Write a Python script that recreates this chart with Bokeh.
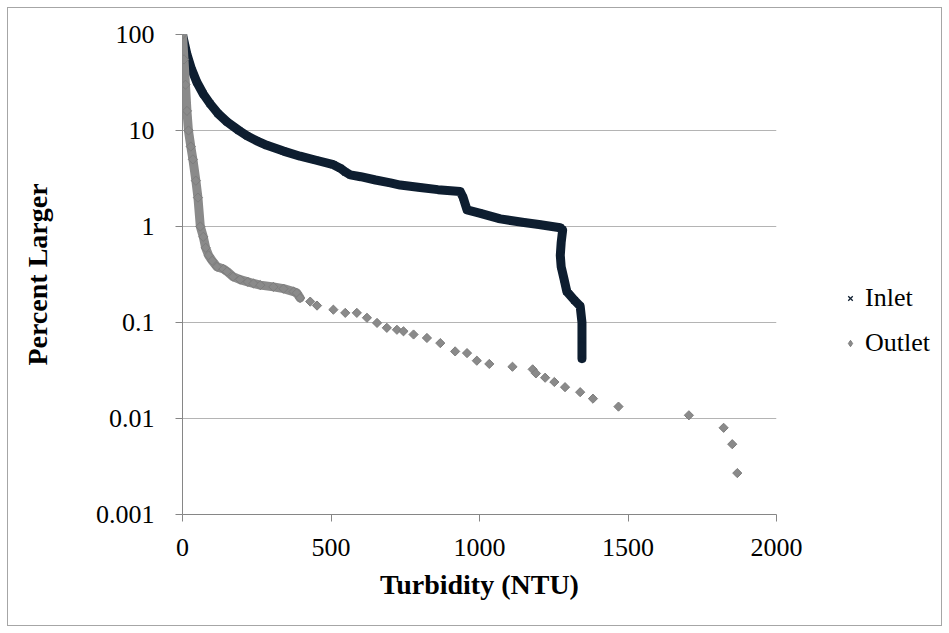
from bokeh.plotting import figure
from bokeh.layouts import row
from bokeh.models import (Range1d, FixedTicker, CustomJSTickFormatter, Legend, LegendItem,
                          ColumnDataSource)
from bokeh.embed import file_html
from bokeh.resources import INLINE

# ---- data ----
inlet_x = [0, 5, 15, 30, 48, 70, 93, 120, 150, 190,
           217, 250, 284, 340, 396, 450, 508, 531, 548, 565,
           600, 650, 700, 733, 800, 860, 935, 945, 958, 1000,
           1070, 1150, 1200, 1272, 1280, 1275, 1272, 1275, 1285, 1294,
           1320, 1339, 1345, 1345, 1345]
inlet_y = [100, 85, 62, 44, 32, 24, 19, 15, 12.3, 10,
           8.8, 7.8, 7.0, 6.1, 5.4, 4.9, 4.4, 4.05, 3.7, 3.45,
           3.3, 3.05, 2.85, 2.7, 2.55, 2.42, 2.31, 2.0, 1.49, 1.38,
           1.2, 1.1, 1.05, 0.97, 0.92, 0.68, 0.5, 0.38, 0.28, 0.21,
           0.17, 0.148, 0.1, 0.065, 0.042]

outlet_x = [0, 5, 10, 15, 20, 28, 35, 45, 52, 60,
            70, 78, 88, 100, 116, 138, 150, 170, 194, 220,
            239, 262, 306, 340, 374, 385, 396, 430, 453, 508,
            548, 587, 621, 655, 688, 722, 744, 778, 823, 868,
            918, 958, 991, 1033, 1111, 1179, 1190, 1221, 1252, 1288,
            1339, 1382, 1468, 1705, 1822, 1851, 1868]
outlet_y = [100, 55, 30, 16, 10, 6.8, 5, 3, 2, 1,
            0.78, 0.6, 0.5, 0.44, 0.38, 0.36, 0.34, 0.3, 0.28, 0.265,
            0.255, 0.245, 0.235, 0.225, 0.21, 0.203, 0.18, 0.165, 0.15, 0.136,
            0.126, 0.126, 0.112, 0.099, 0.088, 0.084, 0.081, 0.075, 0.069, 0.061,
            0.050, 0.048, 0.040, 0.037, 0.0346, 0.0325, 0.0295, 0.0266, 0.0240, 0.0212,
            0.0188, 0.0161, 0.0133, 0.0108, 0.0080, 0.0054, 0.0027]

x_ticks = [0, 500, 1000, 1500, 2000]
y_ticks = [0.001, 0.01, 0.1, 1, 10, 100]
series_names = ["Inlet", "Outlet"]
x_title = "Turbidity (NTU)"
y_title = "Percent Larger"

OUTLET_DENSE = 27  # points of the outlet series forming the continuous band

FONT = "Liberation Serif"
INLET_COLOR = "#0e1e30"
OUTLET_COLOR = "#8a8a8a"
OUTLET_EDGE = "#7d7d7d"

MAIN_W, LEG_W, H = 810, 139, 633

p = figure(width=MAIN_W, height=H, output_backend="svg", toolbar_location=None,
           x_range=Range1d(0, 2000), y_range=Range1d(0.001, 100), y_axis_type="log",
           min_border_left=182, min_border_right=34, min_border_top=34, min_border_bottom=119)
p.outline_line_color = None
p.background_fill_color = "white"
p.border_fill_alpha = 0

inlet_src = ColumnDataSource(dict(x=inlet_x, y=inlet_y))
outlet_src = ColumnDataSource(dict(x=outlet_x, y=outlet_y))
outlet_dense_src = ColumnDataSource(dict(x=outlet_x[:OUTLET_DENSE], y=outlet_y[:OUTLET_DENSE]))

IN_MARK = dict(marker="x", size=9, line_color=INLET_COLOR, line_width=1.5)
OUT_MARK = dict(marker="square", angle=0.785398, size=6.5,
                fill_color=OUTLET_COLOR, line_color=OUTLET_EDGE, line_width=1)

# inlet: dense band of x markers
p.line("x", "y", source=inlet_src, line_color=INLET_COLOR, line_width=9, line_join="round", line_cap="round")
p.scatter("x", "y", source=inlet_src, **IN_MARK)

# outlet: dense band then individual diamonds
p.line("x", "y", source=outlet_dense_src, line_color=OUTLET_COLOR, line_width=9, line_join="round", line_cap="round")
p.scatter("x", "y", source=outlet_src, **OUT_MARK)

# axes
for ax in (p.xaxis[0], p.yaxis[0]):
    ax.axis_line_color = "#868686"
    ax.major_tick_line_color = "#868686"
    ax.minor_tick_line_color = None
    ax.major_tick_in = 0
    ax.major_tick_out = 7
    ax.major_label_text_font = FONT
    ax.major_label_text_font_size = "26px"
    ax.major_label_text_color = "black"
    ax.axis_label_text_font = FONT
    ax.axis_label_text_font_size = "28px"
    ax.axis_label_text_font_style = "bold"
    ax.axis_label_text_color = "black"

p.xaxis.ticker = FixedTicker(ticks=x_ticks)
p.yaxis.ticker = FixedTicker(ticks=y_ticks)
p.yaxis.formatter = CustomJSTickFormatter(code="return tick.toString();")
p.xaxis.axis_label = x_title
p.yaxis.axis_label = y_title
p.xaxis.major_label_standoff = 17
p.yaxis.major_label_standoff = 21
p.xaxis.axis_label_standoff = 10
p.yaxis.axis_label_standoff = 40

p.xgrid.grid_line_color = None
p.ygrid.grid_line_color = "#b4b4b4"
p.ygrid.grid_line_width = 1

# legend panel (separate canvas to the right of the plot; its ranges show no data)
pl = figure(width=LEG_W, height=H, output_backend="svg", toolbar_location=None,
            x_range=Range1d(-2, -1), y_range=Range1d(-2, -1),
            min_border_left=0, min_border_right=0, min_border_top=34, min_border_bottom=119)
pl.axis.visible = False
pl.grid.visible = False
pl.outline_line_color = None
pl.background_fill_alpha = 0
pl.border_fill_alpha = 0
l_in = pl.scatter("x", "y", source=inlet_src, marker="x", size=10, line_color=INLET_COLOR, line_width=1.3)
l_out = pl.scatter("x", "y", source=outlet_src, marker="diamond", size=12,
                   fill_color=OUTLET_COLOR, line_color=OUTLET_EDGE, line_width=1)
legend = Legend(items=[LegendItem(label=series_names[0], renderers=[l_in], index=0),
                       LegendItem(label=series_names[1], renderers=[l_out], index=0)],
                location=(32, 151), orientation="vertical",
                label_text_font=FONT, label_text_font_size="26px", label_text_color="black",
                glyph_width=16, glyph_height=40, label_height=40, spacing=5,
                label_standoff=7, padding=0, margin=0,
                border_line_color=None, background_fill_alpha=0)
pl.add_layout(legend, "center")

layout = row(p, pl, styles={"box-shadow": "inset 0 0 0 7px white, inset 0 0 0 8px #a6a6a6",
                            "background": "white"})

open("out.html", "w").write(file_html(layout, INLINE))
